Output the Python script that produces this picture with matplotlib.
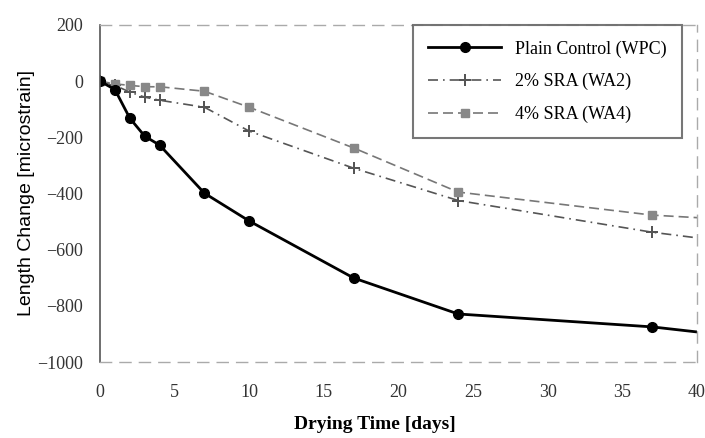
import matplotlib
matplotlib.use("Agg")
import matplotlib.pyplot as plt

days = [0, 1, 2, 3, 4, 7, 10, 17, 24, 37, 40]
plain_control = [0, -30, -132, -196, -228, -399, -498, -701, -829, -875, -893]
sra2 = [0, -15, -39, -57, -68, -93, -178, -310, -425, -538, -558]
sra4 = [0, -10, -15, -20, -20, -36, -93, -238, -395, -477, -486]

x_ticks = [0, 5, 10, 15, 20, 25, 30, 35, 40]
y_ticks = [200, 0, -200, -400, -600, -800, -1000]

plt.rcParams['font.family'] = ['Liberation Serif', 'DejaVu Serif']

fig = plt.figure(figsize=(7.05, 4.38), dpi=100)
ax = fig.add_axes([0.1418, 0.1735, 0.8469, 0.7695])

mk = list(range(len(days) - 1))
ax.plot(days, sra2, color='#555555', lw=1.2, ls=(0, (6, 3, 1, 3)),
        marker=(4, 2, 0), ms=8, mew=1.3, markevery=mk, label='2% SRA (WA2)')
ax.plot(days, sra4, color='#777777', lw=1.2, ls=(0, (6, 3)),
        marker='s', ms=6, mfc='#888888', mec='#888888', markevery=mk,
        label='4% SRA (WA4)')
ax.plot(days, plain_control, color='black', lw=2, marker='o', ms=7,
        markevery=mk, label='Plain Control (WPC)')

ax.set_xlim(0, 40)
ax.set_ylim(-1000, 200)
ax.set_xticks(x_ticks)
ax.set_yticks(y_ticks)
ax.tick_params(axis='both', length=0, labelsize=13, colors='#333333')
ax.tick_params(axis='x', pad=16)
ax.tick_params(axis='y', pad=12)

for s in ['top', 'right', 'bottom']:
    ax.spines[s].set_linestyle((0, (8, 6)))
    ax.spines[s].set_color('#aaaaaa')
    ax.spines[s].set_linewidth(1)
ax.spines['left'].set_color('#555555')
ax.spines['left'].set_linewidth(1.2)

ax.set_xlabel('Drying Time [days]', fontsize=14, fontweight='bold')
ax.xaxis.set_label_coords(0.46, -0.16)
ax.set_ylabel('Length Change [microstrain]', fontsize=14,
              family=['Liberation Sans', 'DejaVu Sans'])
ax.yaxis.set_label_coords(-0.108, 0.5)

handles, labels = ax.get_legend_handles_labels()
order = [2, 0, 1]
leg = ax.legend([handles[i] for i in order], [labels[i] for i in order],
                loc='upper right', bbox_to_anchor=(0.975, 1.0), borderaxespad=0,
                fontsize=13, frameon=True, fancybox=False, edgecolor='#555555',
                borderpad=0.85, labelspacing=0.85, handlelength=4.0)
leg.get_frame().set_linewidth(1.5)

fig.savefig('out.png', dpi=100)
